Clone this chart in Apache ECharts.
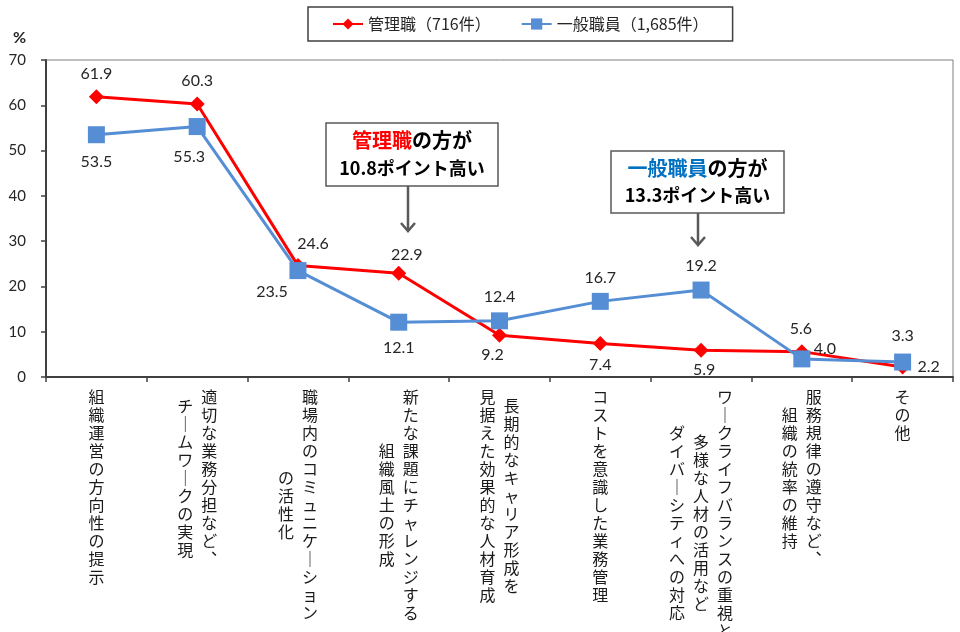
<!DOCTYPE html>
<html>
<head>
<meta charset="utf-8">
<script src="https://cdn.jsdelivr.net/npm/echarts@6/dist/echarts.min.js"></script>
<style>
html,body{margin:0;padding:0;background:#fff;}
#chart{width:960px;height:632px;}
</style>
</head>
<body>
<div id="chart"></div>
<script>
// ---- data ----
const categoryColumns = [
  ['組織運営の方向性の提示'],
  ['適切な業務分担など、', 'チームワークの実現'],
  ['職場内のコミュニケーション', 'の活性化'],
  ['新たな課題にチャレンジする', '組織風土の形成'],
  ['長期的なキャリア形成を', '見据えた効果的な人材育成'],
  ['コストを意識した業務管理'],
  ['ワークライフバランスの重視と、', '多様な人材の活用など', 'ダイバーシティへの対応'],
  ['服務規律の遵守など、', '組織の統率の維持'],
  ['その他']
];
const categories = categoryColumns.map(c => c.join(''));
const seriesNames = ['管理職（716件）', '一般職員（1,685件）'];
const managerValues = [61.9, 60.3, 24.6, 22.9, 9.2, 7.4, 5.9, 5.6, 2.2];
const staffValues = [53.5, 55.3, 23.5, 12.1, 12.4, 16.7, 19.2, 4.0, 3.3];
const yTicks = { min: 0, max: 70, interval: 10 };

// label offsets (style only)
const managerLabelOffsets = [[0,-23],[0,-23],[15,-22],[8,-18],[-7,20],[0,21],[3,20],[-1,-23],[26,0]];
const staffLabelOffsets = [[0,27],[-8,30],[-26,21],[0,26],[0,-24],[0,-24],[0,-24],[23,-10],[0,-26]];

const CJK = '"Noto Sans CJK JP", "Noto Sans CJK SC", sans-serif';
const NUM = 'Lato, "Open Sans", sans-serif';

function verticalLabel(cols) {
  const vert = s => Array.from(s).map(ch => ch === 'ー' ? '｜' : (ch === '、' ? '︑' : ch));
  const colChars = cols.map(vert);
  const M = Math.max.apply(null, colChars.map(c => c.length));
  const nLines = 2 * M - 1;
  const ordered = colChars.slice().reverse();
  const lines = [];
  for (let j = 0; j < nLines; j++) {
    const parts = ordered.map(chars => {
      const off = M - chars.length;
      const k = j - off;
      if (k >= 0 && k % 2 === 0 && k / 2 < chars.length) return '{c|' + chars[k / 2] + '}';
      return '{c|\u3000}';
    });
    lines.push(parts.join('{g|\u3000}'));
  }
  return lines.join('\n');
}

function buildData(values, offsets) {
  return values.map((v, i) => ({
    value: v,
    label: { offset: offsets[i] }
  }));
}

const chart = echarts.init(document.getElementById('chart'), null, { renderer: 'canvas' });

const option = {
  animation: false,
  backgroundColor: '#ffffff',
  legend: {
    left: 308,
    top: 7,
    padding: [9, 24, 9, 24],
    itemGap: 30,
    itemWidth: 30,
    itemHeight: 14,
    borderColor: '#404040',
    borderWidth: 1.5,
    backgroundColor: '#ffffff',
    textStyle: { fontFamily: CJK, fontSize: 16, color: '#262626' },
    data: seriesNames
  },
  grid: {
    left: 46, right: 7, top: 60, bottom: 255,
    outerBoundsMode: 'none',
    containLabel: false,
    show: true,
    borderColor: '#7f7f7f',
    borderWidth: 1,
    backgroundColor: 'transparent'
  },
  xAxis: {
    type: 'category',
    data: categories,
    boundaryGap: true,
    axisLine: { show: true, lineStyle: { color: '#404040', width: 2 } },
    axisTick: { show: true, length: 5, inside: false, lineStyle: { color: '#404040', width: 1.5 } },
    axisLabel: {
      interval: 0,
      margin: 15,
      lineHeight: 9,
      color: '#1a1a1a',
      formatter: (value, index) => verticalLabel(categoryColumns[index]),
      rich: {
        c: { fontFamily: CJK, fontSize: 16, lineHeight: 9, color: '#1a1a1a' },
        g: { fontFamily: CJK, fontSize: 8, lineHeight: 9 }
      }
    },
    splitLine: { show: false }
  },
  yAxis: {
    type: 'value',
    min: yTicks.min,
    max: yTicks.max,
    interval: yTicks.interval,
    name: '%',
    nameLocation: 'end',
    nameGap: 14,
    nameTextStyle: { fontFamily: NUM, fontSize: 16, fontWeight: 'bold', color: '#262626', align: 'right', padding: [0, 20, 0, 0] },
    axisLine: { show: true, lineStyle: { color: '#404040', width: 2 } },
    axisTick: { show: true, length: 5, inside: false, lineStyle: { color: '#404040', width: 1.5 } },
    axisLabel: { fontFamily: NUM, fontSize: 15, color: '#262626', margin: 20 },
    splitLine: { show: false }
  },
  series: [
    {
      name: seriesNames[0],
      type: 'line',
      data: buildData(managerValues, managerLabelOffsets),
      symbol: 'diamond',
      symbolSize: 15,
      lineStyle: { color: '#ff0000', width: 3 },
      itemStyle: { color: '#ff0000' },
      label: {
        show: true,
        position: 'inside',
        fontFamily: NUM,
        fontSize: 16,
        color: '#262626',
        formatter: p => p.value.toFixed(1)
      },
      z: 2
    },
    {
      name: seriesNames[1],
      type: 'line',
      data: buildData(staffValues, staffLabelOffsets),
      symbol: 'rect',
      symbolSize: 17,
      lineStyle: { color: '#558ed5', width: 3 },
      itemStyle: { color: '#558ed5' },
      label: {
        show: true,
        position: 'inside',
        fontFamily: NUM,
        fontSize: 16,
        color: '#262626',
        formatter: p => p.value.toFixed(1)
      },
      z: 3
    }
  ],
  graphic: [
    { type: 'rect', shape: { x: 326, y: 123, width: 172, height: 63 },
      style: { fill: '#ffffff', stroke: '#595959', lineWidth: 1.5 }, z: 10 },
    { type: 'text', x: 412, y: 154.5, z: 11,
      style: {
        text: '{r|管理職}{b|の方が}\n{s|10.8ポイント高い}',
        align: 'center', verticalAlign: 'middle',
        rich: {
          r: { fontFamily: CJK, fontSize: 20, fontWeight: 'bold', fill: '#ff0000', lineHeight: 28 },
          b: { fontFamily: CJK, fontSize: 20, fontWeight: 'bold', fill: '#000000', lineHeight: 28 },
          s: { fontFamily: CJK, fontSize: 18, fontWeight: 'bold', fill: '#000000', lineHeight: 28 }
        }
      } },
    { type: 'polyline', z: 10, shape: { points: [[408, 186], [408, 231]] },
      style: { stroke: '#595959', lineWidth: 2.5, fill: null } },
    { type: 'polyline', z: 10, shape: { points: [[401, 223], [408, 231], [415, 223]] },
      style: { stroke: '#595959', lineWidth: 2.5, fill: null } },

    { type: 'rect', shape: { x: 611, y: 151, width: 173, height: 62 },
      style: { fill: '#ffffff', stroke: '#595959', lineWidth: 1.5 }, z: 10 },
    { type: 'text', x: 697.5, y: 182, z: 11,
      style: {
        text: '{u|一般職員}{b|の方が}\n{s|13.3ポイント高い}',
        align: 'center', verticalAlign: 'middle',
        rich: {
          u: { fontFamily: CJK, fontSize: 20, fontWeight: 'bold', fill: '#0070c0', lineHeight: 27 },
          b: { fontFamily: CJK, fontSize: 20, fontWeight: 'bold', fill: '#000000', lineHeight: 27 },
          s: { fontFamily: CJK, fontSize: 18, fontWeight: 'bold', fill: '#000000', lineHeight: 27 }
        }
      } },
    { type: 'polyline', z: 10, shape: { points: [[698, 213], [698, 245]] },
      style: { stroke: '#595959', lineWidth: 2.5, fill: null } },
    { type: 'polyline', z: 10, shape: { points: [[691, 237], [698, 245], [705, 237]] },
      style: { stroke: '#595959', lineWidth: 2.5, fill: null } }
  ]
};

chart.setOption(option);
</script>
</body>
</html>
